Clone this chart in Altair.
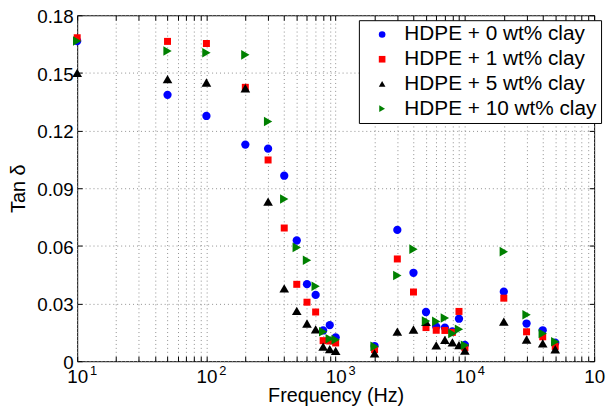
import altair as alt
import pandas as pd

# ---------------- data ----------------
freqs = [10, 50, 100, 200, 300, 400, 500, 600, 700, 800, 900, 1000,
         2000, 3000, 4000, 5000, 6000, 7000, 8000, 9000, 10000,
         20000, 30000, 40000, 50000]

series_names = ["HDPE + 0 wt% clay", "HDPE + 1 wt% clay",
                "HDPE + 5 wt% clay", "HDPE + 10 wt% clay"]

tan_0 = [0.1666, 0.1386, 0.1276, 0.1127, 0.1106, 0.0965, 0.0628, 0.0401, 0.0345,
         0.0160, 0.0188, 0.0124, 0.0079, 0.0683, 0.0460, 0.0256, 0.0180, 0.0175,
         0.0155, 0.0221, 0.0085, 0.0362, 0.0196, 0.0161, 0.0096]
tan_1 = [0.1683, 0.1664, 0.1653, 0.1425, 0.1047, 0.0693, 0.0400, 0.0307, 0.0256,
         0.0107, 0.0105, 0.0095, 0.0060, 0.0532, 0.0360, 0.0175, 0.0161, 0.0160,
         0.0150, 0.0259, 0.0070, 0.0328, 0.0153, 0.0127, 0.0077]
tan_5 = [0.1500, 0.1468, 0.1450, 0.1420, 0.0830, 0.0379, 0.0262, 0.0196, 0.0166,
         0.0076, 0.0063, 0.0054, 0.0041, 0.0154, 0.0165, 0.0205, 0.0082, 0.0111,
         0.0098, 0.0084, 0.0055, 0.0206, 0.0113, 0.0093, 0.0062]
tan_10 = [0.1666, 0.1614, 0.1605, 0.1594, 0.1247, 0.0844, 0.0592, 0.0525, 0.0390,
          0.0153, 0.0117, 0.0112, 0.0077, 0.0446, 0.0583, 0.0209, 0.0207, 0.0225,
          0.0144, 0.0166, 0.0083, 0.0570, 0.0242, 0.0144, 0.0101]

colors = ["#0000ff", "#ff0000", "#000000", "#008000"]
shapes = ["circle", "square", "triangle-up", "triangle-right"]
sizes = [70, 50, 95, 95]

y_ticks = [0, 0.03, 0.06, 0.09, 0.12, 0.15, 0.18]
x_ticks = [d * 10 ** e for e in range(1, 5) for d in range(1, 10)] + [100000]
exponents = [1, 2, 3, 4, 5]

# ---------------- tables ----------------
rows = []
for i, (name, vals) in enumerate(zip(series_names, [tan_0, tan_1, tan_5, tan_10])):
    for f, v in zip(freqs, vals):
        rows.append({"freq": f, "tan": v, "series": name, "idx": i, "sz": sizes[i]})
df = pd.DataFrame(rows)

exp_df = pd.DataFrame({"pos": [10 ** e for e in exponents],
                       "exp": [str(e) for e in exponents]})

W, H = 523, 350
FONT = "Liberation Sans"

xscale = alt.Scale(type="log", domain=[10, 100000], nice=False)
yscale = alt.Scale(domain=[0, 0.18], nice=False, zero=False)

leg = alt.Legend(orient="none", legendX=285, legendY=5,
                 fillColor="white", strokeColor="black", padding=4,
                 symbolOffset=9, labelOffset=12, labelFontSize=21,
                 labelFont=FONT, labelLimit=0, symbolSize=45, rowPadding=3,
                 symbolStrokeWidth=0, labelColor="black")

points = alt.Chart(df).mark_point(filled=True, opacity=1).encode(
    x=alt.X("freq:Q", scale=xscale,
            axis=alt.Axis(values=x_ticks, orient="bottom", offset=-5, tickSize=5,
                          tickColor="black", domain=False, grid=True,
                          gridColor="#8f8f8f", gridDash=[1, 3], gridWidth=1,
                          labelExpr="abs(log(datum.value)/LN10 - round(log(datum.value)/LN10)) < 0.000001 ? '10' : ''",
                          labelOverlap=False, labelFlush=False, labelFont=FONT,
                          labelFontSize=19, labelColor="black", labelPadding=7,
                          title="Frequency (Hz)", titleFont=FONT, titleFontSize=20,
                          titleFontWeight="normal", titleColor="black",
                          titleBaseline="alphabetic", titleY=46)),
    y=alt.Y("tan:Q", scale=yscale,
            axis=alt.Axis(values=y_ticks, orient="left", offset=-5, tickSize=5,
                          tickColor="black", domain=False, grid=True,
                          gridColor="#8f8f8f", gridDash=[1, 3], gridWidth=1,
                          labelExpr="datum.value == 0 ? '0' : format(datum.value, '.2f')",
                          labelOverlap=False, labelFlush=False, labelFont=FONT,
                          labelFontSize=19, labelColor="black", labelPadding=4,
                          labelOffset=1.5,
                          title="Tan δ", titleFont=FONT, titleFontSize=20,
                          titleFontWeight="normal", titleColor="black",
                          titlePadding=8)),
    color=alt.Color("series:N", title=None,
                    scale=alt.Scale(domain=series_names, range=colors), legend=leg),
    shape=alt.Shape("series:N", title=None,
                    scale=alt.Scale(domain=series_names, range=shapes), legend=leg),
    size=alt.Size("sz:Q", scale=None),
    order=alt.Order("idx:Q"),
)

frame_ticks = alt.Chart(df).mark_point(opacity=0).encode(
    x=alt.X("freq:Q", scale=xscale,
            axis=alt.Axis(values=x_ticks, orient="top", offset=-5, tickSize=5,
                          tickColor="black", domain=False, grid=False,
                          labels=False, title=None)),
    y=alt.Y("tan:Q", scale=yscale,
            axis=alt.Axis(values=y_ticks, orient="right", offset=-5, tickSize=5,
                          tickColor="black", domain=False, grid=False,
                          labels=False, title=None)),
)

exp_text = alt.Chart(exp_df).mark_text(
    align="left", baseline="top", fontSize=13, font=FONT, color="black", dx=13
).encode(
    x=alt.X("pos:Q", scale=xscale, axis=None),
    y=alt.value(H + 4),
    text="exp:N",
)

chart = alt.layer(points, frame_ticks, exp_text).resolve_axis(
    x="independent", y="independent"
).properties(
    width=W, height=H,
    autosize=alt.AutoSizeParams(type="none"),
    padding={"left": 70, "top": 5, "right": 12, "bottom": 45},
).configure_view(stroke="black", strokeWidth=1)

chart.save("out.html", embed_options={"renderer": "svg", "actions": False})
